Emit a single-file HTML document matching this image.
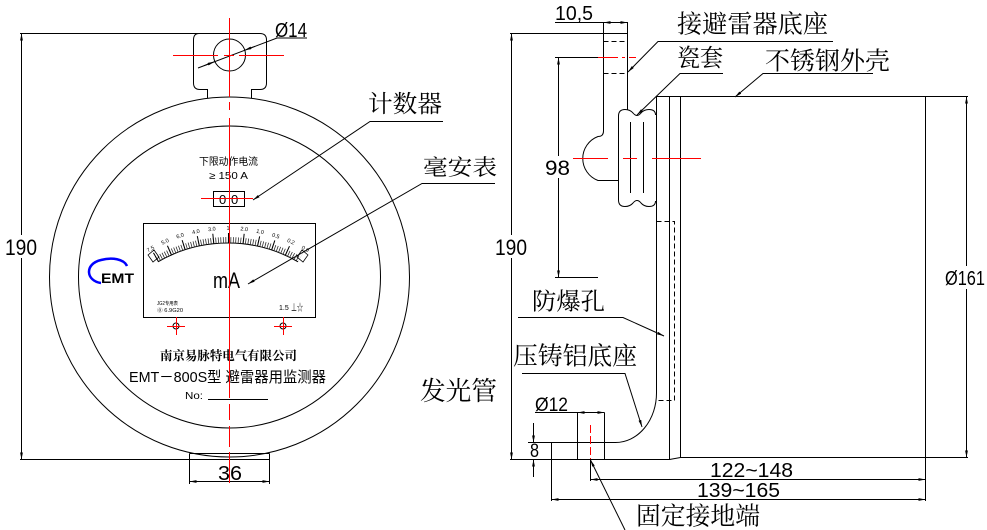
<!DOCTYPE html>
<html><head><meta charset="utf-8"><style>
html,body{margin:0;padding:0;background:#fff;}
svg{display:block;}
.n{font-family:"Liberation Sans",sans-serif;fill:#000;}
.c{font-family:"Liberation Serif","Noto Serif CJK SC",serif;fill:#000;}
.s{font-family:"Liberation Sans","Noto Sans CJK SC",sans-serif;fill:#000;}
</style></head><body>
<svg width="987" height="530" viewBox="0 0 987 530" xmlns="http://www.w3.org/2000/svg">
<defs>
<marker id="a" viewBox="0 0 10 4" refX="10" refY="2" markerWidth="7" markerHeight="2.8" orient="auto-start-reverse" markerUnits="userSpaceOnUse"><path d="M0,0L10,2L0,4z" fill="#000"/></marker>
</defs>
<rect width="987" height="530" fill="#fff"/>

<!-- ================= LEFT VIEW ================= -->
<g fill="none" stroke="#000" stroke-width="1">
  <!-- bracket -->
  <path d="M20,33.5 H260 Q266.5,33.5 266.5,40 V83 Q266.5,89.5 260,89.5 H251.5 V98.5"/>
  <path d="M199,33.5 Q193.5,33.5 193.5,40 V83 Q193.5,89.5 200,89.5 H207.5 V98.5"/>
  <circle cx="229.5" cy="55" r="16"/>
  <!-- body circles -->
  <circle cx="229.5" cy="277" r="180"/>
  <circle cx="229.5" cy="277" r="151"/>
  <!-- 190 dim -->
  <line x1="21.5" y1="33.5" x2="21.5" y2="459.5" marker-start="url(#a)" marker-end="url(#a)"/>
  <!-- bottom tab & 36 dim -->
  <line x1="189.5" y1="453.5" x2="269.5" y2="453.5"/>
  <line x1="20" y1="459.5" x2="269.5" y2="459.5"/>
  <line x1="189.5" y1="453.5" x2="189.5" y2="484"/>
  <line x1="269.5" y1="453.5" x2="269.5" y2="484"/>
  <line x1="189.5" y1="481.5" x2="269.5" y2="481.5" marker-start="url(#a)" marker-end="url(#a)"/>
  <!-- Ø14 leader -->
  <path d="M198,68 L277,38 H307"/>
  <line x1="204" y1="65.7" x2="214.5" y2="61.7" marker-end="url(#a)"/>
  <line x1="255" y1="46.3" x2="244.5" y2="50.3" marker-end="url(#a)"/>
  <!-- counter -->
  <rect x="213.5" y="191.5" width="31" height="15"/>
  <!-- leaders -->
  <path d="M443,121.5 H370 L253,200" marker-end="url(#a)"/>
  <path d="M495,183.5 H422 L248,284" marker-end="url(#a)"/>
  <!-- meter -->
  <rect x="143.5" y="223.5" width="172" height="94"/>
  <path d="M158,261.8 A140,140 0 0 1 298,261.8"/>
  <path d="M156.5,259.2 A143,143 0 0 1 299.5,259.2" stroke-width="6" pathLength="60" stroke-dasharray="0.3 0.7" stroke="#222"/>
  <path d="M155.5,257.4 A145,145 0 0 1 300.5,257.4" stroke-width="10" pathLength="60" stroke-dasharray="0.4 5.6"/>
  <path d="M148,255 l6,-5 l5,7 l-6,5z M308,255 l-6,-5 l-5,7 l6,5z" stroke-width="0.8"/>
  <!-- crosshair circles -->
  <circle cx="176" cy="326" r="3"/>
  <circle cx="283" cy="326" r="3"/>
  <!-- No underline -->
  <line x1="208" y1="399.5" x2="268" y2="399.5"/>
</g>
<!-- logo -->
<path d="M101,283 C86,281 84,264 101,260 C112,257 124,259 127,266" fill="none" stroke="#0000ff" stroke-width="2.5"/>
<text class="n" x="101" y="283" font-size="14" font-weight="bold" textLength="33" lengthAdjust="spacingAndGlyphs">EMT</text>

<!-- left texts -->
<rect x="3" y="235" width="37" height="23" fill="#fff"/>
<text class="n" x="5" y="255" font-size="22" textLength="32" lengthAdjust="spacingAndGlyphs">190</text>
<text class="n" x="275" y="37" font-size="20" textLength="32" lengthAdjust="spacingAndGlyphs">Ø14</text>
<text class="n" x="218" y="480" font-size="20" textLength="24" lengthAdjust="spacingAndGlyphs">36</text>
<text class="c" x="368" y="112" font-size="24" textLength="74" lengthAdjust="spacingAndGlyphs">计数器</text>
<text class="c" x="423" y="175" font-size="22" textLength="74" lengthAdjust="spacingAndGlyphs">毫安表</text>
<text class="s" x="199" y="165" font-size="10" textLength="59" lengthAdjust="spacingAndGlyphs" fill="#333">下限动作电流</text>
<text class="s" x="209" y="179" font-size="10" textLength="39" lengthAdjust="spacingAndGlyphs" fill="#333">≥ 150 A</text>
<text class="n" x="219" y="204" font-size="13">0</text>
<text class="n" x="231" y="204" font-size="13">0</text>
<text class="n" x="213" y="288" font-size="22" textLength="27" lengthAdjust="spacingAndGlyphs">mA</text>
<text class="s" x="157" y="305" font-size="5" textLength="21" lengthAdjust="spacingAndGlyphs" fill="#555">JG2专用表</text>
<text class="s" x="157" y="312" font-size="5" textLength="26" lengthAdjust="spacingAndGlyphs" fill="#555">⓪ 6.9G20</text>
<text class="n" x="279" y="310" font-size="7" fill="#888">1.5</text>
<text class="s" x="291" y="311" font-size="10" textLength="12" lengthAdjust="spacingAndGlyphs">⊥☆</text>
<!-- scale numbers -->
<g class="n" font-size="5.5" text-anchor="middle" fill="#222">
  <text transform="translate(151.5,250.5) rotate(-30)">7.5</text>
  <text transform="translate(165.8,243.2) rotate(-24)">5.0</text>
  <text transform="translate(180.7,237.5) rotate(-18)">6.0</text>
  <text transform="translate(196.2,233.4) rotate(-12)">4.0</text>
  <text transform="translate(212,230.8) rotate(-6)">3.0</text>
  <text transform="translate(228,230)">1</text>
  <text transform="translate(244,230.8) rotate(6)">2.0</text>
  <text transform="translate(259.8,233.4) rotate(12)">1.0</text>
  <text transform="translate(275.3,237.5) rotate(18)">0.5</text>
  <text transform="translate(290.2,243.2) rotate(24)">0.2</text>
  <text transform="translate(304.5,250.5) rotate(30)">0.0</text>
</g>
<text class="c" x="160" y="360" font-size="12.5" font-weight="bold" textLength="137" lengthAdjust="spacingAndGlyphs">南京易脉特电气有限公司</text>
<text class="s" x="129" y="382" font-size="15" textLength="197" lengthAdjust="spacingAndGlyphs">EMT－800S型 避雷器用监测器</text>
<text class="n" x="185" y="399" font-size="10" textLength="18" lengthAdjust="spacingAndGlyphs">No:</text>

<!-- left red center lines -->
<g stroke="#ff0000" stroke-width="1" fill="none">
  <path d="M229.5,18 V97 M229.5,102 V110 M229.5,118 V398 M229.5,404 V420 M229.5,426 V447 M229.5,452 V483"/>
  <path d="M173,55.5 H218 M224,55.5 H234 M239,55.5 H284"/>
  <path d="M201,198.5 H253"/>
  <path d="M167,326.5 H185 M176.5,317 V335 M274,326.5 H292 M283.5,317 V335"/>
</g>

<!-- ================= RIGHT VIEW ================= -->
<g fill="none" stroke="#000" stroke-width="1">
  <!-- 10,5 dim -->
  <line x1="555" y1="22.5" x2="627.5" y2="22.5"/>
  <line x1="611" y1="22.5" x2="603.5" y2="22.5" marker-end="url(#a)"/>
  <line x1="620" y1="22.5" x2="627.5" y2="22.5" marker-end="url(#a)"/>
  <!-- 190 dim -->
  <line x1="510" y1="33.5" x2="627.5" y2="33.5"/>
  <line x1="511.5" y1="33.5" x2="511.5" y2="459.5" marker-start="url(#a)" marker-end="url(#a)"/>
  <!-- bracket -->
  <path d="M603.5,22 V131 Q603.5,136.5 598,136.5 A23.5,23.5 0 0 0 598,180.5 H618.5"/>
  <line x1="627.5" y1="22" x2="627.5" y2="110"/>
  <path d="M603.5,41.5 H627.5 M603.5,73.5 H627.5" stroke-dasharray="5,3"/>
  <!-- 98 dim -->
  <line x1="555" y1="57.5" x2="600" y2="57.5"/>
  <line x1="558.5" y1="57.5" x2="558.5" y2="277.5" marker-start="url(#a)" marker-end="url(#a)"/>
  <line x1="555" y1="277.5" x2="598" y2="277.5"/>
  <!-- porcelain -->
  <path d="M618.5,200 V116 Q618.5,109.5 625,109.5 Q630,109.5 633,113 Q637,118 641,113 Q644,109.5 649,109.5 Q655.5,109.5 655.5,115"/>
  <path d="M618.5,200 Q618.5,206.5 625,206.5 Q630,206.5 633,203 Q637,198 641,203 Q644,206.5 649,206.5 Q655.5,206.5 655.5,201"/>
  <line x1="630.5" y1="122" x2="630.5" y2="193"/>
  <line x1="643.5" y1="122" x2="643.5" y2="193"/>
  <!-- housing -->
  <path d="M656.5,96.5 V393 A41,49.5 0 0 1 615.5,442.5 H528"/>
  <line x1="669.5" y1="96.5" x2="669.5" y2="459.5"/>
  <line x1="680.5" y1="96.5" x2="680.5" y2="457.5"/>
  <line x1="656.5" y1="96.5" x2="968" y2="96.5"/>
  <line x1="925.5" y1="96.5" x2="925.5" y2="501"/>
  <line x1="680.5" y1="457.5" x2="968" y2="457.5"/>
  <path d="M510,459.5 H669.5 L680.5,457.5"/>
  <path d="M656.5,221.5 H674.5 V400.5 H656.5" stroke-dasharray="5,3"/>
  <!-- Ø12 -->
  <line x1="535" y1="412.5" x2="604.5" y2="412.5"/>
  <line x1="577.5" y1="412.5" x2="577.5" y2="459.5"/>
  <line x1="604.5" y1="412.5" x2="604.5" y2="459.5"/>
  <line x1="585" y1="412.5" x2="577.5" y2="412.5" marker-end="url(#a)"/>
  <line x1="597" y1="412.5" x2="604.5" y2="412.5" marker-end="url(#a)"/>
  <!-- 8 dim -->
  <line x1="533.5" y1="423" x2="533.5" y2="442.5" marker-end="url(#a)"/>
  <line x1="533.5" y1="477" x2="533.5" y2="459.5" marker-end="url(#a)"/>
  <line x1="551.5" y1="442.5" x2="551.5" y2="501"/>
  <!-- 122~148 / 139~165 -->
  <line x1="590.5" y1="459.5" x2="590.5" y2="481"/>
  <line x1="590.5" y1="479.5" x2="925.5" y2="479.5" marker-start="url(#a)" marker-end="url(#a)"/>
  <line x1="551.5" y1="499.5" x2="925.5" y2="499.5" marker-start="url(#a)" marker-end="url(#a)"/>
  <!-- Ø161 -->
  <line x1="966.5" y1="96.5" x2="966.5" y2="457.5" marker-start="url(#a)" marker-end="url(#a)"/>
  <!-- leaders -->
  <path d="M833,41.5 H658 L628,72" marker-end="url(#a)"/>
  <path d="M723,73.5 H680 L637,115" marker-end="url(#a)"/>
  <path d="M873,73.5 H763 L735,97" marker-end="url(#a)"/>
  <path d="M518,317.5 H623 L664,336" marker-end="url(#a)"/>
  <path d="M522,373.5 H625 L642,427" marker-end="url(#a)"/>
  <path d="M625,530 L590.5,460" marker-end="url(#a)"/>
</g>
<!-- right red lines -->
<g stroke="#ff0000" stroke-width="1" fill="none">
  <path d="M598,57.5 H618 M622,57.5 H625 M629,57.5 H636"/>
  <path d="M560,158.5 H608 M623,158.5 H637 M652,158.5 H701"/>
  <path d="M590.5,425 V459" stroke-dasharray="8,3"/>
</g>

<!-- right texts -->
<text class="n" x="555" y="20" font-size="20" textLength="38" lengthAdjust="spacingAndGlyphs">10,5</text>
<rect x="493" y="235" width="37" height="23" fill="#fff"/>
<text class="n" x="495" y="255" font-size="22" textLength="32" lengthAdjust="spacingAndGlyphs">190</text>
<rect x="543" y="156" width="30" height="22" fill="#fff"/>
<text class="n" x="545" y="175" font-size="21" textLength="25" lengthAdjust="spacingAndGlyphs">98</text>
<text class="c" x="677" y="32.5" font-size="25" textLength="151" lengthAdjust="spacingAndGlyphs">接避雷器底座</text>
<text class="c" x="677" y="66" font-size="24" textLength="46" lengthAdjust="spacingAndGlyphs">瓷套</text>
<text class="c" x="765" y="69.5" font-size="25" textLength="125" lengthAdjust="spacingAndGlyphs">不锈钢外壳</text>
<text class="c" x="532" y="309.5" font-size="24" textLength="73" lengthAdjust="spacingAndGlyphs">防爆孔</text>
<text class="c" x="513" y="364.5" font-size="25" textLength="124" lengthAdjust="spacingAndGlyphs">压铸铝底座</text>
<text class="c" x="420" y="400" font-size="26" textLength="77" lengthAdjust="spacingAndGlyphs">发光管</text>
<text class="c" x="636" y="524.5" font-size="25" textLength="124" lengthAdjust="spacingAndGlyphs">固定接地端</text>
<text class="n" x="535" y="411" font-size="19" textLength="33" lengthAdjust="spacingAndGlyphs">Ø12</text>
<text class="n" x="530" y="457" font-size="19" textLength="9" lengthAdjust="spacingAndGlyphs">8</text>
<text class="n" x="710" y="477" font-size="20" textLength="83" lengthAdjust="spacingAndGlyphs">122~148</text>
<text class="n" x="697" y="497" font-size="20" textLength="83" lengthAdjust="spacingAndGlyphs">139~165</text>
<rect x="943" y="266" width="44" height="23" fill="#fff"/>
<text class="n" x="945" y="285" font-size="20" textLength="40" lengthAdjust="spacingAndGlyphs">Ø161</text>
</svg>
</body></html>
